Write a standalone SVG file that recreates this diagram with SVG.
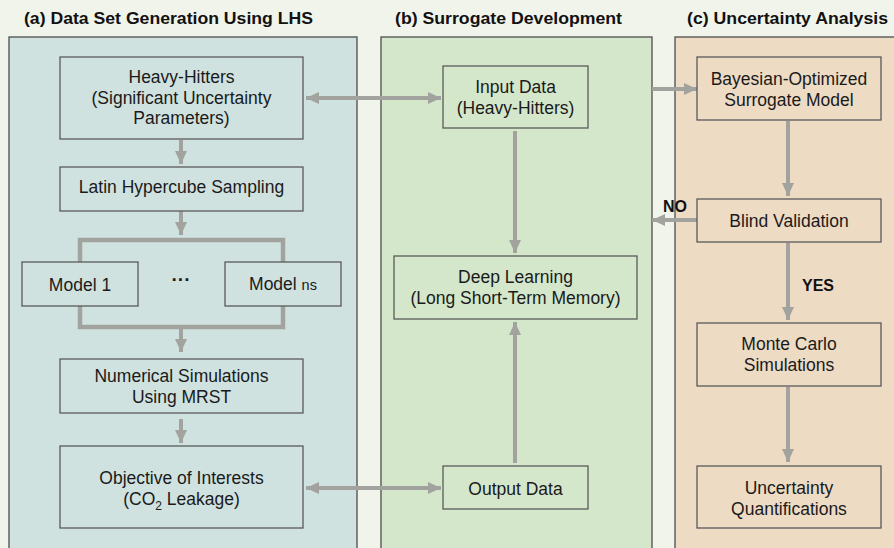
<svg xmlns="http://www.w3.org/2000/svg" width="894" height="548" viewBox="0 0 894 548">
<defs>
<marker id="ah" markerUnits="userSpaceOnUse" markerWidth="14" markerHeight="14" viewBox="0 0 14 14" refX="13" refY="7" orient="auto-start-reverse">
<path d="M0,1 L13,7 L0,13 Z" fill="#a2a39f"/>
</marker>
<style>
.t{font-family:"Liberation Sans",Arial,sans-serif;font-size:17.5px;fill:#1a1a1a;text-anchor:middle}
.h{font-family:"Liberation Sans",Arial,sans-serif;font-size:17px;font-weight:bold;fill:#111}
.b{font-family:"Liberation Sans",Arial,sans-serif;font-size:16px;font-weight:bold;fill:#111}
.pa{fill:#cfe2e0;stroke:#4d4d4d;stroke-width:1.3}
.pb{fill:#d4e7cb;stroke:#4d4d4d;stroke-width:1.3}
.pc{fill:#eddbc4;stroke:#4d4d4d;stroke-width:1.3}
.na{fill:#cfe2e0;stroke:#5a5a5a;stroke-width:1.3}
.nb{fill:#d4e7cb;stroke:#5a5a5a;stroke-width:1.3}
.nc{fill:#eddbc4;stroke:#5a5a5a;stroke-width:1.3}
.c{fill:none;stroke:#a2a39f;stroke-width:4}
.k{fill:none;stroke:#a2a39f;stroke-width:4.5}
</style>
</defs>
<rect x="0" y="0" width="894" height="548" fill="#f1f4ea"/>

<g id="panels">
<rect class="pa" x="9" y="37" width="348" height="520"/>
<rect class="pb" x="381" y="37" width="271" height="520"/>
<rect class="pc" x="675" y="37" width="230" height="520"/>
<text class="h" x="24" y="24" textLength="289" lengthAdjust="spacingAndGlyphs">(a) Data Set Generation Using LHS</text>
<text class="h" x="395" y="24" textLength="227" lengthAdjust="spacingAndGlyphs">(b) Surrogate Development</text>
<text class="h" x="687" y="24" textLength="201" lengthAdjust="spacingAndGlyphs">(c) Uncertainty Analysis</text>
</g>

<g id="connectors">
<line class="c" x1="181" y1="140" x2="181" y2="164" marker-end="url(#ah)"/>
<line class="c" x1="181" y1="211" x2="181" y2="235" marker-end="url(#ah)"/>
<path class="k" d="M80,262 V240 H283 V262"/>
<path class="k" d="M80,306 V327 H283 V306"/>
<line class="c" x1="181" y1="327" x2="181" y2="352" marker-end="url(#ah)"/>
<line class="c" x1="181" y1="419" x2="181" y2="443" marker-end="url(#ah)"/>
<line class="c" x1="306" y1="98" x2="441" y2="98" marker-start="url(#ah)" marker-end="url(#ah)"/>
<line class="c" x1="306" y1="488" x2="441" y2="488" marker-start="url(#ah)" marker-end="url(#ah)"/>
<line class="c" x1="515" y1="131" x2="515" y2="253" marker-end="url(#ah)"/>
<line class="c" x1="515" y1="463" x2="515" y2="322" marker-end="url(#ah)"/>
<line class="c" x1="652" y1="89" x2="697" y2="89" marker-end="url(#ah)"/>
<line class="c" x1="788" y1="121" x2="788" y2="196" marker-end="url(#ah)"/>
<line class="c" x1="697" y1="220" x2="652" y2="220" marker-end="url(#ah)"/>
<line class="c" x1="788" y1="243" x2="788" y2="320" marker-end="url(#ah)"/>
<line class="c" x1="788" y1="387" x2="788" y2="462" marker-end="url(#ah)"/>
<text class="b" x="663" y="212">NO</text>
<text class="b" x="802" y="291">YES</text>
</g>

<g id="heavy-hitters">
<rect class="na" x="60" y="57" width="243" height="82"/>
<text class="t" x="181.5" y="83">Heavy-Hitters</text>
<text class="t" x="181.5" y="104">(Significant Uncertainty</text>
<text class="t" x="181.5" y="124">Parameters)</text>
</g>
<g id="lhs">
<rect class="na" x="60" y="167" width="243" height="44"/>
<text class="t" x="181.5" y="193">Latin Hypercube Sampling</text>
</g>
<g id="model1">
<rect class="na" x="22" y="262" width="116" height="44"/>
<text class="t" x="80" y="291">Model 1</text>
</g>
<g id="dots">
<text class="t" x="181" y="286" style="font-weight:bold;font-size:19px">···</text>
</g>
<g id="modelns">
<rect class="na" x="225" y="262" width="116" height="44"/>
<text class="t" x="283" y="290">Model <tspan style="font-size:14.5px">ns</tspan></text>
</g>
<g id="numerical">
<rect class="na" x="60" y="359" width="243" height="54"/>
<text class="t" x="181.5" y="382">Numerical Simulations</text>
<text class="t" x="181.5" y="403">Using MRST</text>
</g>
<g id="objective">
<rect class="na" x="60" y="446" width="243" height="82"/>
<text class="t" x="181.5" y="484">Objective of Interests</text>
<text class="t" x="181.5" y="505">(CO<tspan style="font-size:12px" dy="5">2</tspan><tspan dy="-5"> Leakage)</tspan></text>
</g>

<g id="input-data">
<rect class="nb" x="443" y="66" width="145" height="62"/>
<text class="t" x="515.5" y="93">Input Data</text>
<text class="t" x="515.5" y="114">(Heavy-Hitters)</text>
</g>
<g id="deep-learning">
<rect class="nb" x="394" y="256" width="243" height="63"/>
<text class="t" x="515.5" y="283">Deep Learning</text>
<text class="t" x="515.5" y="304">(Long Short-Term Memory)</text>
</g>
<g id="output-data">
<rect class="nb" x="443" y="466" width="145" height="43"/>
<text class="t" x="515.5" y="495">Output Data</text>
</g>

<g id="bayesian">
<rect class="nc" x="697" y="57" width="184" height="63"/>
<text class="t" x="789" y="85">Bayesian-Optimized</text>
<text class="t" x="789" y="106">Surrogate Model</text>
</g>
<g id="blind-validation">
<rect class="nc" x="697" y="199" width="184" height="43"/>
<text class="t" x="789" y="227">Blind Validation</text>
</g>
<g id="monte-carlo">
<rect class="nc" x="697" y="323" width="184" height="63"/>
<text class="t" x="789" y="350">Monte Carlo</text>
<text class="t" x="789" y="371">Simulations</text>
</g>
<g id="uq">
<rect class="nc" x="697" y="466" width="184" height="62"/>
<text class="t" x="789" y="494">Uncertainty</text>
<text class="t" x="789" y="515">Quantifications</text>
</g>
</svg>
